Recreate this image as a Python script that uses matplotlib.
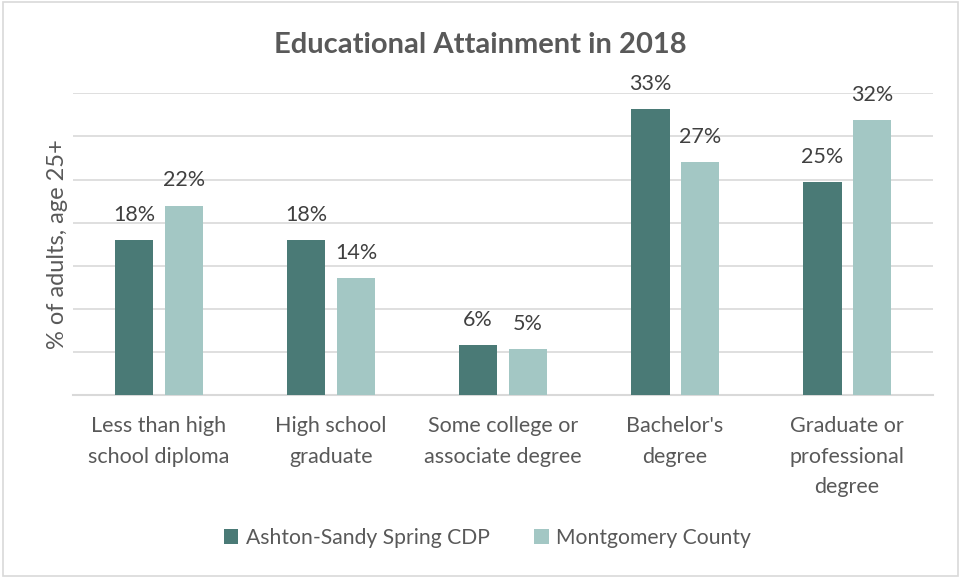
import matplotlib.pyplot as plt
import numpy as np
from matplotlib.patches import Rectangle

# Data
categories = ["Less than high\nschool diploma", "High school\ngraduate",
              "Some college or\nassociate degree", "Bachelor's\ndegree",
              "Graduate or\nprofessional\ndegree"]
ashton = [18.0, 18.0, 5.8, 33.2, 24.7]
montgomery = [22.0, 13.6, 5.4, 27.0, 31.9]
series_names = ["Ashton-Sandy Spring CDP", "Montgomery County"]

dark = "#4A7A76"
light = "#A3C7C4"
text_col = "#595959"

plt.rcParams['font.family'] = ['Lato', 'DejaVu Sans']

fig = plt.figure(figsize=(9.61, 5.77), dpi=100)
ax = fig.add_axes([0.076, 0.3146, 0.895, 0.5237])

x = np.arange(len(categories))
w = 0.225
b1 = ax.bar(x - 0.145, ashton, w, color=dark, label=series_names[0], zorder=3)
b2 = ax.bar(x + 0.145, montgomery, w, color=light, label=series_names[1], zorder=3)

for bars, vals in [(b1, ashton), (b2, montgomery)]:
    for bar, v in zip(bars, vals):
        ax.annotate(f"{v:.0f}%", (bar.get_x() + bar.get_width() / 2, bar.get_height()),
                    xytext=(0, 11), textcoords="offset points", ha="center", va="bottom",
                    fontsize=15.5, color="#404040", annotation_clip=False)

ax.set_xlim(-0.5, len(categories) - 0.5)
ax.set_ylim(0, 35)
ax.set_yticks(np.arange(0, 36, 5))
ax.set_yticklabels([])
ax.tick_params(axis='y', length=0)
ax.tick_params(axis='x', length=0, pad=15)
ax.set_xticks(x)
ax.set_xticklabels(categories, fontsize=15.5, color=text_col, linespacing=1.65)
ax.grid(axis='y', color="#D9D9D9", linewidth=1.2, zorder=0)
for s in ['top', 'right', 'left']:
    ax.spines[s].set_visible(False)
ax.spines['bottom'].set_color("#D9D9D9")
ax.spines['bottom'].set_linewidth(1.5)

ax.set_ylabel("% of adults, age 25+", fontsize=17, color=text_col, labelpad=0)

fig.suptitle("Educational Attainment in 2018", fontsize=21, fontweight='bold',
             color=text_col, x=0.5, y=0.945)

fig.legend(loc='center', bbox_to_anchor=(0.507, 0.068), ncol=2, frameon=False,
           fontsize=15.2, labelcolor=text_col, handlelength=0.7, handleheight=0.7,
           handletextpad=0.35, columnspacing=2.1)

fig.patches.append(Rectangle((0.003, 0.002), 0.994, 0.994, transform=fig.transFigure,
                             fill=False, edgecolor="#D9D9D9", linewidth=1.2))

fig.savefig("out.png", dpi=100)
